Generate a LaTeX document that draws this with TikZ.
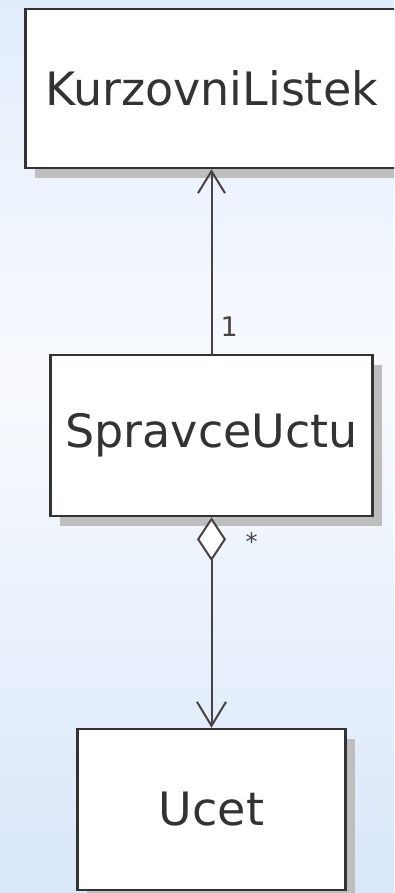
\documentclass[tikz,border=0pt]{standalone}
\usepackage{fontspec}
\setmainfont{DejaVu Sans}
\usepackage{tikz}
\usetikzlibrary{arrows.meta,positioning,shadows}

\definecolor{bgtop}{HTML}{E2EDFB}
\definecolor{bgmid}{HTML}{F8FAFE}
\definecolor{bgbot}{HTML}{D9E7F9}
\definecolor{edgegray}{HTML}{333333}
\definecolor{linegray}{HTML}{4A4242}
\definecolor{shadowgray}{HTML}{BEBEBE}

\tikzset{
  umlclass/.style={draw=edgegray, line width=2.5pt, fill=white, inner sep=0pt,
    text=edgegray, font=\fontsize{46}{50}\selectfont,
    drop shadow={shadow xshift=9pt, shadow yshift=-10pt, fill=shadowgray, opacity=1}},
  assoc/.style={draw=linegray, line width=2pt},
  mult/.style={text=linegray, inner sep=0pt, font=\fontsize{27}{30}\selectfont}
}

\begin{document}
\begin{tikzpicture}[x=1pt, y=-1pt]
        \useasboundingbox (0,0) rectangle (394,893);
        \clip (0,0) rectangle (394,893);
        \shade[top color=bgtop, bottom color=bgmid] (0,0) rectangle (394,380);
        \shade[top color=bgmid, bottom color=bgbot] (0,380) rectangle (394,893);
        \node[umlclass, minimum width=372pt, minimum height=159pt] (kurz) at (211.5,88.5) {KurzovniListek};
        \node[umlclass, minimum width=322pt, minimum height=161pt] (spravce) at (211.5,435.5) {SpravceUctu};
        \node[umlclass, minimum width=268pt, minimum height=161pt] (ucet) at (211.5,809.5) {Ucet};
        \draw[assoc, -{Straight Barb[length=22pt, width=27pt, line width=2pt]}] (spravce) -- (kurz);
        \draw[assoc, {Diamond[length=44pt, width=29pt, fill=white, line width=2pt]}-{Straight Barb[length=24pt, width=29pt, line width=2pt]}] (spravce) -- (ucet);
        \node[mult, anchor=south west] (one) at ([xshift=9pt, yshift=17pt]spravce.north) {1};
        \node[mult, font=\fontsize{24}{26}\selectfont] (many) at ([xshift=40pt, yshift=-24pt]spravce.south) {*};
    \end{tikzpicture}
\end{document}
